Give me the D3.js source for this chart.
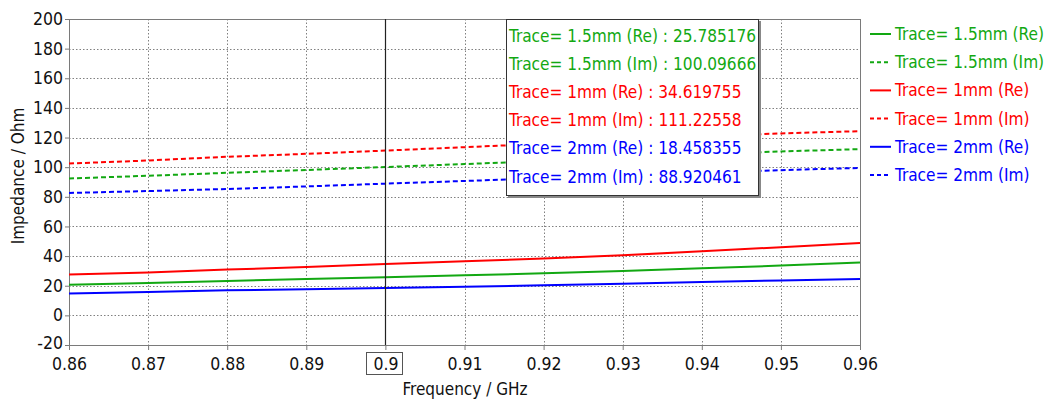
<!DOCTYPE html>
<html><head><meta charset="utf-8">
<script src="https://cdn.jsdelivr.net/npm/d3@7"></script>
<style>body{margin:0;background:#fff}svg{display:block}text{font-family:Tahoma,"DejaVu Sans Condensed","DejaVu Sans",sans-serif}</style>
</head><body>
<svg id="c" width="1045" height="400"></svg>
<script>
const freq = [0.86,0.87,0.88,0.89,0.90,0.91,0.92,0.93,0.94,0.95,0.96];
const re1_5 = [20.7,21.9,23.2,24.5,25.8,27.0,28.4,29.9,31.8,33.6,35.6];
const im1_5 = [92.4,94.2,96.2,98.1,100.1,102.1,104.2,106.5,108.8,110.6,112.2];
const re1 = [27.5,29.0,30.9,32.6,34.6,36.5,38.4,40.5,43.2,46.0,48.9];
const im1 = [102.5,104.5,107.0,109.0,111.2,113.5,115.8,118.3,120.8,122.8,124.3];
const re2 = [14.7,15.8,16.9,17.7,18.46,19.3,20.3,21.4,22.5,23.6,24.5];
const im2 = [82.6,83.9,85.3,87.0,88.9,90.7,92.5,94.3,96.3,98.0,99.5];
const xTicks = [0.86,0.87,0.88,0.89,0.9,0.91,0.92,0.93,0.94,0.95,0.96];
const yTicks = [-20,0,20,40,60,80,100,120,140,160,180,200];
const seriesNames = ["Trace= 1.5mm (Re)","Trace= 1.5mm (Im)","Trace= 1mm (Re)","Trace= 1mm (Im)","Trace= 2mm (Re)","Trace= 2mm (Im)"];
const seriesColors = ["#12a812","#12a812","#ff0000","#ff0000","#0000ff","#0000ff"];
const seriesDashed = [false,true,false,true,false,true];
const cursorValues = ["25.785176","100.09666","34.619755","111.22558","18.458355","88.920461"];
const cursorFreq = 0.9;
const seriesData = [re1_5,im1_5,re1,im1,re2,im2];

const svg = d3.select("#c");
const L=69,R=860,T=19,B=345;
const x = d3.scaleLinear().domain([0.86,0.96]).range([L,R]);
const y = d3.scaleLinear().domain([-20,200]).range([B,T]);

// grid
const g = svg.append("g");
g.selectAll("line.hg").data(yTicks.filter(v=>v>-20&&v<200)).join("line")
 .attr("x1",L).attr("x2",R).attr("y1",d=>Math.round(y(d))+0.5).attr("y2",d=>Math.round(y(d))+0.5)
 .attr("stroke","#808080").attr("stroke-width",1).attr("stroke-dasharray","1.5,2");
g.selectAll("line.vg").data(xTicks.filter(v=>v>0.861&&v<0.959)).join("line")
 .attr("y1",T).attr("y2",B).attr("x1",d=>Math.round(x(d))+0.5).attr("x2",d=>Math.round(x(d))+0.5)
 .attr("stroke","#808080").attr("stroke-width",1).attr("stroke-dasharray","1.5,2");

// frame
svg.append("rect").attr("x",L+0.5).attr("y",T+0.5).attr("width",R-L).attr("height",B-T)
 .attr("fill","none").attr("stroke","#7a7a7a").attr("stroke-width",1);

// axes
const xa = svg.append("g").attr("transform",`translate(0,${B})`)
 .call(d3.axisBottom(x).tickValues(xTicks).tickFormat(d=>String(+d.toFixed(2))).tickSizeInner(5).tickSizeOuter(0).tickPadding(8));
const ya = svg.append("g").attr("transform",`translate(${L},0)`)
 .call(d3.axisLeft(y).tickValues(yTicks).tickFormat(d=>String(d)).tickSizeInner(4).tickSizeOuter(0).tickPadding(2));
[xa,ya].forEach(a=>{a.select(".domain").attr("stroke","#7a7a7a");a.selectAll(".tick line").attr("stroke","#7a7a7a");
 a.selectAll("text").attr("font-size",17.5).attr("fill","#111").style("font-family","Tahoma,'DejaVu Sans Condensed',sans-serif");});
ya.selectAll(".tick").filter(d=>d===-20).select("text").attr("dy","0.2em");

// lines
const line = d3.line().x((d,i)=>x(freq[i])).y(d=>y(d));
seriesData.forEach((s,k)=>{
 svg.append("path").datum(s).attr("d",line).attr("fill","none")
  .attr("stroke",seriesColors[k]).attr("stroke-width",2)
  .attr("stroke-dasharray",seriesDashed[k]?"5,3":null);
});

// cursor
const cx = Math.round(x(cursorFreq))+0.5;
svg.append("line").attr("x1",cx).attr("x2",cx).attr("y1",T).attr("y2",B).attr("stroke","#222").attr("stroke-width",1.2);
svg.append("rect").attr("x",366.5).attr("y",352.5).attr("width",36).attr("height",22)
 .attr("fill","none").attr("stroke","#555");

// axis titles
svg.append("text").attr("x",465).attr("y",395).attr("text-anchor","middle").attr("font-size",17).attr("fill","#111").text("Frequency / GHz");
svg.append("text").attr("transform","translate(24,176) rotate(-90)").attr("text-anchor","middle").attr("font-size",17).attr("fill","#111").text("Impedance / Ohm");

// tooltip
const tb = svg.append("g");
tb.append("rect").attr("x",508).attr("y",21).attr("width",253).attr("height",177).attr("fill","#888");
tb.append("rect").attr("x",506.5).attr("y",19.5).attr("width",252).attr("height",176).attr("fill","#fff").attr("stroke","#333");
seriesNames.forEach((n,k)=>{
 tb.append("text").attr("x",509).attr("y",42+k*28.1).attr("font-size",17.1).attr("fill",seriesColors[k]).text(`${n} : ${cursorValues[k]}`);
});

// legend
const lg = svg.append("g");
seriesNames.forEach((n,k)=>{
 const yy = 34+k*28.2;
 lg.append("line").attr("x1",870).attr("x2",891).attr("y1",yy).attr("y2",yy).attr("stroke",seriesColors[k]).attr("stroke-width",2)
  .attr("stroke-dasharray",seriesDashed[k]?"4,3":null);
 lg.append("text").attr("x",895).attr("y",yy+6).attr("font-size",17.1).attr("fill",seriesColors[k]).text(n);
});
</script>
</body></html>
